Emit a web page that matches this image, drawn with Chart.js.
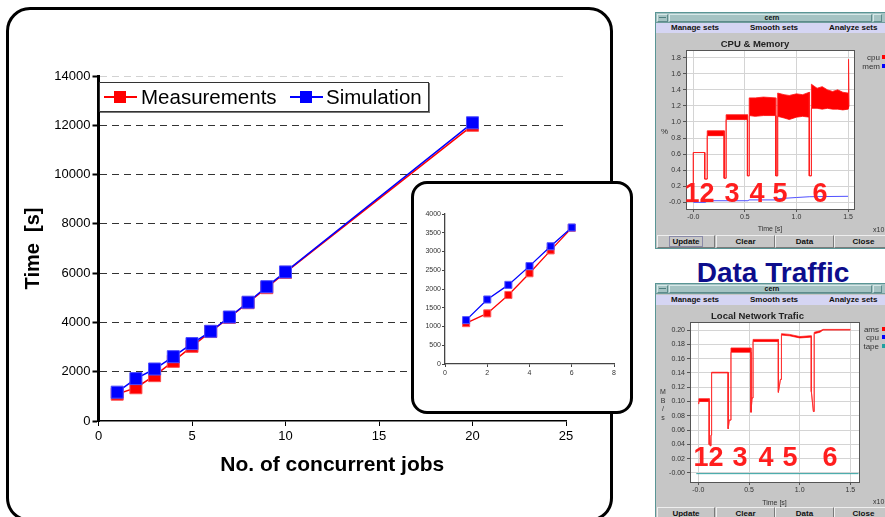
<!DOCTYPE html>
<html><head><meta charset="utf-8">
<script src="https://cdn.jsdelivr.net/npm/chart.js@4.4.0/dist/chart.umd.min.js"></script>
<style>
html,body{margin:0;padding:0;background:#fff;width:885px;height:517px;overflow:hidden;font-family:'Liberation Sans',Arial,sans-serif;}
.a{position:absolute;}
#panel{left:6px;top:7px;width:607px;height:515px;border:3px solid #000;border-radius:24px;background:#fff;box-sizing:border-box;}
#inset{left:411px;top:181px;width:222px;height:233px;border:3px solid #000;border-radius:16px;background:#fff;box-sizing:border-box;}
#legend{left:99px;top:82px;width:330px;height:30px;border:1px solid #333;box-shadow:1px 1px 0 #777;background:#fff;box-sizing:border-box;}
.lt{font-size:20.5px;color:#000;line-height:24px;top:85px;white-space:nowrap;}
.win{background:#c6c6c6;border:1px solid #5a9595;box-sizing:border-box;}
.tbar{background:#a5c3c3;border-bottom:1px solid #6f9c9c;box-sizing:border-box;}
.tbtn{background:#a5c3c3;border:1px solid;border-color:#d6e8e8 #5d8b8b #5d8b8b #d6e8e8;box-sizing:border-box;}
.mbar{background:#d5d5f3;}
.mt{font-size:8px;font-weight:bold;color:#111;white-space:nowrap;line-height:10px;}
.btn{background:#c6c6c6;border:1px solid;border-color:#eeeeee #7a7a7a #7a7a7a #eeeeee;box-sizing:border-box;font-size:8px;font-weight:bold;color:#111;text-align:center;line-height:11px;}
.num{color:#ff1e1e;font-weight:bold;font-size:27px;line-height:27px;width:20px;text-align:center;}
.lg{font-size:8px;color:#333;line-height:9px;text-align:right;width:30px;}
.sq{width:5px;height:4px;}
.sm{font-size:7px;color:#333;line-height:8px;}
</style></head>
<body>
<div id="panel" class="a"></div>
<canvas id="mainChart" class="a" width="600" height="430" style="left:6px;top:56px;width:600px;height:430px;"></canvas>

<div id="legend" class="a"></div>
<div class="a" style="left:104px;top:96px;width:33px;height:2px;background:#ff0000;"></div>
<div class="a" style="left:114px;top:91px;width:12px;height:12px;background:#ff0000;"></div>
<div class="a lt" style="left:141px;">Measurements</div>
<div class="a" style="left:290px;top:96px;width:33px;height:2px;background:#0000ff;"></div>
<div class="a" style="left:300px;top:91px;width:12px;height:12px;background:#0000ff;"></div>
<div class="a lt" style="left:326px;">Simulation</div>

<div id="inset" class="a"></div>
<canvas id="insetChart" class="a" width="210" height="180" style="left:415px;top:200px;width:210px;height:180px;"></canvas>

<!-- top window -->
<div class="a win" style="left:655px;top:12px;width:240px;height:237px;"></div>
<div class="a tbar" style="left:656px;top:13px;width:240px;height:10px;"></div>
<div class="a tbtn" style="left:657px;top:14px;width:11px;height:8px;"></div>
<div class="a" style="left:659px;top:17px;width:7px;height:1px;background:#4f7f7f;"></div>
<div class="a tbtn" style="left:669px;top:14px;width:203px;height:8px;"></div>
<div class="a mt" style="left:756px;top:13px;width:32px;text-align:center;font-size:7px;line-height:9px;">cern</div>
<div class="a tbtn" style="left:873px;top:14px;width:9px;height:8px;"></div>
<div class="a mbar" style="left:656px;top:23px;width:240px;height:10px;"></div>
<div class="a mt" style="left:671px;top:23px;">Manage sets</div>
<div class="a mt" style="left:750px;top:23px;">Smooth sets</div>
<div class="a mt" style="left:829px;top:23px;">Analyze sets</div>
<canvas id="cpuChart" class="a" width="229" height="202" style="left:656px;top:32px;width:229px;height:202px;"></canvas>
<div class="a sm" style="left:661px;top:128px;font-size:8px;">%</div>
<div class="a lg" style="left:850px;top:53px;">cpu</div>
<div class="a sq" style="left:882px;top:55px;background:#ff0000;"></div>
<div class="a lg" style="left:850px;top:62px;">mem</div>
<div class="a sq" style="left:882px;top:64px;background:#0000ff;"></div>
<div class="a sm" style="left:873px;top:226px;">x10</div>
<div class="a btn" style="left:657px;top:235px;width:58px;height:13px;"><span style="border:1px solid #8a8aa8;padding:0 2px;">Update</span></div>
<div class="a btn" style="left:716px;top:235px;width:59px;height:13px;">Clear</div>
<div class="a btn" style="left:775px;top:235px;width:59px;height:13px;">Data</div>
<div class="a btn" style="left:834px;top:235px;width:59px;height:13px;">Close</div>
<div class="a num" style="left:682px;top:180px;">1</div>
<div class="a num" style="left:697px;top:180px;">2</div>
<div class="a num" style="left:722px;top:180px;">3</div>
<div class="a num" style="left:747px;top:180px;">4</div>
<div class="a num" style="left:770px;top:180px;">5</div>
<div class="a num" style="left:810px;top:180px;">6</div>

<!-- bottom window -->
<div class="a" style="left:673px;top:259px;width:200px;text-align:center;font-size:28px;line-height:28px;font-weight:bold;color:#0d0d8c;">Data Traffic</div>
<div class="a win" style="left:655px;top:283px;width:240px;height:240px;"></div>
<div class="a tbar" style="left:656px;top:284px;width:240px;height:10px;"></div>
<div class="a tbtn" style="left:657px;top:285px;width:11px;height:8px;"></div>
<div class="a" style="left:659px;top:288px;width:7px;height:1px;background:#4f7f7f;"></div>
<div class="a tbtn" style="left:669px;top:285px;width:203px;height:8px;"></div>
<div class="a mt" style="left:756px;top:284px;width:32px;text-align:center;font-size:7px;line-height:9px;">cern</div>
<div class="a tbtn" style="left:873px;top:285px;width:9px;height:8px;"></div>
<div class="a mbar" style="left:656px;top:295px;width:240px;height:10px;"></div>
<div class="a mt" style="left:671px;top:295px;">Manage sets</div>
<div class="a mt" style="left:750px;top:295px;">Smooth sets</div>
<div class="a mt" style="left:829px;top:295px;">Analyze sets</div>
<canvas id="netChart" class="a" width="229" height="204" style="left:656px;top:304px;width:229px;height:204px;"></canvas>
<div class="a sm" style="left:660px;top:388px;width:6px;text-align:center;line-height:8.5px;">M<br>B<br>/<br>s</div>
<div class="a lg" style="left:849px;top:325px;">ams</div>
<div class="a sq" style="left:882px;top:327px;background:#ff0000;"></div>
<div class="a lg" style="left:849px;top:333px;">cpu</div>
<div class="a sq" style="left:882px;top:335px;background:#0000ff;"></div>
<div class="a lg" style="left:849px;top:342px;">tape</div>
<div class="a sq" style="left:882px;top:344px;background:#20a0a0;"></div>
<div class="a sm" style="left:873px;top:498px;">x10</div>
<div class="a btn" style="left:657px;top:507px;width:58px;height:13px;">Update</div>
<div class="a btn" style="left:716px;top:507px;width:59px;height:13px;">Clear</div>
<div class="a btn" style="left:775px;top:507px;width:59px;height:13px;">Data</div>
<div class="a btn" style="left:834px;top:507px;width:59px;height:13px;">Close</div>
<div class="a num" style="left:691px;top:444px;">1</div>
<div class="a num" style="left:706px;top:444px;">2</div>
<div class="a num" style="left:730px;top:444px;">3</div>
<div class="a num" style="left:756px;top:444px;">4</div>
<div class="a num" style="left:780px;top:444px;">5</div>
<div class="a num" style="left:820px;top:444px;">6</div>

<script>
// ---- main chart data ----
const jobs = [1, 2, 3, 4, 5, 6, 7, 8, 9, 10, 20];
const measurements = [1090, 1350, 1840, 2420, 3030, 3630, 4200, 4800, 5410, 6030, 12000];
const simulation   = [1170, 1720, 2110, 2610, 3140, 3640, 4220, 4820, 5450, 6050, 12100];
const mainXTicks = [0, 5, 10, 15, 20, 25];
const mainYTicks = [0, 2000, 4000, 6000, 8000, 10000, 12000, 14000];
// ---- inset (first six job counts) ----
const insetJobs = [1, 2, 3, 4, 5, 6];
const insetMeasurements = [1090, 1350, 1840, 2420, 3030, 3630];
const insetSimulation   = [1170, 1720, 2110, 2610, 3140, 3640];
const insetXTicks = [0, 2, 4, 6, 8];
const insetYTicks = [0, 500, 1000, 1500, 2000, 2500, 3000, 3500, 4000];
// ---- CPU & Memory monitor ----
const cpuX  = [0.000,0.000,0.110,0.110,0.135,0.135,0.300,0.300,0.318,0.318,0.525,0.525,0.542,0.542,0.600,0.680,0.800,0.800,0.818,0.818,0.880,0.930,1.000,1.060,1.125,1.125,1.145,1.145,1.200,1.250,1.300,1.350,1.400,1.450,1.500,1.505,1.510];
const cpuHi = [0.22,0.62,0.62,0.29,0.29,0.89,0.89,0.30,0.30,1.09,1.09,0.33,0.33,1.30,1.30,1.31,1.30,0.33,0.33,1.36,1.34,1.33,1.35,1.34,1.37,0.33,0.33,1.47,1.42,1.44,1.40,1.38,1.40,1.37,1.36,1.78,1.20];
const cpuLo = [0.22,0.62,0.62,0.29,0.29,0.83,0.83,0.30,0.30,1.03,1.03,0.33,0.33,1.08,1.07,1.08,1.08,0.33,0.33,1.07,1.05,1.03,1.06,1.07,1.06,0.33,0.33,1.17,1.17,1.16,1.17,1.16,1.16,1.15,1.16,1.16,1.20];
const memX  = [0.00,0.115,0.12,0.53,0.54,0.81,0.82,1.00,1.13,1.50];
const memY  = [0.00,0.00,0.02,0.02,0.03,0.03,0.045,0.06,0.07,0.075];
const cpuYTicks  = [0,0.2,0.4,0.6,0.8,1.0,1.2,1.4,1.6,1.8];
const cpuYLabels = ['-0.0','0.2','0.4','0.6','0.8','1.0','1.2','1.4','1.6','1.8'];
const winXTicks  = [0,0.5,1.0,1.5];
const winXLabels = ['-0.0','0.5','1.0','1.5'];
// ---- Local network traffic monitor ----
const netX  = [0.000,0.005,0.108,0.108,0.118,0.125,0.131,0.131,0.295,0.295,0.305,0.322,0.322,0.520,0.520,0.530,0.540,0.540,0.790,0.790,0.810,0.820,0.820,0.900,1.000,1.100,1.115,1.115,1.135,1.143,1.143,1.200,1.230,1.500];
const netHi = [0.097,0.104,0.104,0.040,0.038,0.053,0.053,0.141,0.141,0.062,0.074,0.074,0.175,0.175,0.085,0.105,0.105,0.187,0.187,0.113,0.131,0.131,0.195,0.194,0.191,0.192,0.192,0.114,0.086,0.086,0.197,0.199,0.201,0.201];
const netLo = [0.097,0.100,0.100,0.040,0.038,0.053,0.053,0.140,0.140,0.062,0.074,0.074,0.169,0.169,0.085,0.105,0.105,0.184,0.184,0.113,0.131,0.131,0.193,0.192,0.189,0.190,0.190,0.114,0.086,0.086,0.195,0.197,0.200,0.200];
const tapeX = [-0.02, 1.58];
const tapeY = [-0.001, -0.001];
const netYTicks  = [0,0.02,0.04,0.06,0.08,0.10,0.12,0.14,0.16,0.18,0.20];
const netYLabels = ['-0.00','0.02','0.04','0.06','0.08','0.10','0.12','0.14','0.16','0.18','0.20'];

Chart.defaults.font.family = "'Liberation Sans', Arial, sans-serif";
Chart.defaults.animation = false;

const pts = (xs, ys) => xs.map((x, i) => ({x, y: ys[i]}));
const fixTicks = vals => s => { s.ticks = vals.map(v => ({value: v})); };
const plain = v => String(v);

const plotBox = {
  id: 'plotBox',
  beforeDraw(chart, args, o) {
    if (!o || !o.bg) return;
    const {ctx, chartArea: a} = chart;
    ctx.save(); ctx.fillStyle = o.bg;
    ctx.fillRect(a.left, a.top, a.right - a.left, a.bottom - a.top); ctx.restore();
  },
  afterDraw(chart, args, o) {
    if (!o || !o.frame) return;
    const {ctx, chartArea: a} = chart;
    ctx.save(); ctx.strokeStyle = o.frame; ctx.lineWidth = 1;
    ctx.strokeRect(Math.round(a.left) + 0.5, Math.round(a.top) + 0.5, Math.round(a.right - a.left), Math.round(a.bottom - a.top));
    ctx.restore();
  }
};

// ---------- main chart ----------
new Chart(document.getElementById('mainChart'), {
  type: 'line',
  data: { datasets: [
    { label: 'Measurements', data: pts(jobs, measurements), borderColor: '#ff0000', backgroundColor: '#ff0000',
      pointStyle: 'rect', pointRadius: 8.5, pointBorderColor: '#ff4a4a', pointBorderWidth: 1, borderWidth: 1.5, order: 2 },
    { label: 'Simulation', data: pts(jobs, simulation), borderColor: '#0000ff', backgroundColor: '#0000ff',
      pointStyle: 'rect', pointRadius: 8.5, pointBorderColor: '#4a4aff', pointBorderWidth: 1, borderWidth: 1.5, order: 1 }
  ]},
  options: {
    responsive: false, animation: false,
    layout: { padding: { top: 20, right: 40, left: 0, bottom: 0 } },
    plugins: { legend: { display: false }, tooltip: { enabled: false } },
    scales: {
      x: { type: 'linear', min: 0, max: 25, afterBuildTicks: fixTicks(mainXTicks),
        ticks: { font: { size: 13 }, color: '#000', padding: 3, callback: plain },
        grid: { drawOnChartArea: false, drawTicks: true, tickLength: 5, tickColor: '#000', tickWidth: 1 },
        border: { color: '#000', width: 1.5 },
        title: { display: true, text: 'No. of concurrent jobs', color: '#000', font: { size: 21, weight: 'bold' }, padding: { top: 0, bottom: 8 } },
        afterFit: s => { s.height = 65; } },
      y: { type: 'linear', min: 0, max: 14000, afterBuildTicks: fixTicks(mainYTicks),
        ticks: { font: { size: 13 }, color: '#000', padding: 2, callback: plain },
        grid: { color: c => c.tick.value === 14000 ? '#d2d2d2' : (c.tick.value === 0 ? 'rgba(0,0,0,0)' : '#333'),
          lineWidth: 1, tickColor: '#000', tickLength: 6, tickWidth: 2, tickBorderDash: [] },
        border: { color: '#000', width: 3, dash: [7, 5] },
        title: { display: true, text: 'Time  [s]', color: '#000', font: { size: 20, weight: 'bold' }, padding: { top: 15, bottom: 0 } },
        afterFit: s => { s.width = 92.5; } }
    }
  }
});

// ---------- inset chart ----------
new Chart(document.getElementById('insetChart'), {
  type: 'line',
  data: { datasets: [
    { label: 'Measurements', data: pts(insetJobs, insetMeasurements), borderColor: '#ff0000', backgroundColor: '#ff0000',
      pointStyle: 'rect', pointRadius: 5, pointBorderColor: '#ff5a5a', pointBorderWidth: 1, borderWidth: 1.3, order: 2 },
    { label: 'Simulation', data: pts(insetJobs, insetSimulation), borderColor: '#0000ff', backgroundColor: '#0000ff',
      pointStyle: 'rect', pointRadius: 5, pointBorderColor: '#5a5aff', pointBorderWidth: 1, borderWidth: 1.3, order: 1 }
  ]},
  options: {
    responsive: false, animation: false,
    layout: { padding: { top: 14, right: 11, left: 0, bottom: 0 } },
    plugins: { legend: { display: false }, tooltip: { enabled: false } },
    scales: {
      x: { type: 'linear', min: 0, max: 8, afterBuildTicks: fixTicks(insetXTicks),
        ticks: { font: { size: 7 }, color: '#333', padding: 2, callback: plain },
        grid: { drawOnChartArea: false, tickLength: 3, tickColor: '#444' },
        border: { color: '#444', width: 1.3 },
        afterFit: s => { s.height = 16; } },
      y: { type: 'linear', min: 0, max: 4000, afterBuildTicks: fixTicks(insetYTicks),
        ticks: { font: { size: 7 }, color: '#333', padding: 1, callback: plain },
        grid: { drawOnChartArea: false, tickLength: 3, tickColor: '#444' },
        border: { color: '#444', width: 1.3 },
        afterFit: s => { s.width = 30; } }
    }
  }
});

// ---------- window plots ----------
function winScales(xMin, xMax, yMin, yMax, yTicks, yLabels, yWidth, xHeight) {
  return {
    x: { type: 'linear', min: xMin, max: xMax, afterBuildTicks: fixTicks(winXTicks),
      ticks: { font: { size: 7 }, color: '#333', padding: 1, callback: (v, i) => winXLabels[i] },
      grid: { color: '#d4d4d4', tickLength: 3, tickColor: '#555' },
      border: { display: false },
      title: { display: true, text: 'Time [s]', color: '#333', font: { size: 7 }, padding: { top: 0, bottom: 1 } },
      afterFit: s => { s.height = xHeight; } },
    y: { type: 'linear', min: yMin, max: yMax, afterBuildTicks: fixTicks(yTicks),
      ticks: { font: { size: 7 }, color: '#333', padding: 2, callback: (v, i) => yLabels[i] },
      grid: { color: '#d4d4d4', tickLength: 3, tickColor: '#555' },
      border: { display: false },
      afterFit: s => { s.width = yWidth; } }
  };
}

new Chart(document.getElementById('cpuChart'), {
  type: 'line',
  plugins: [plotBox],
  data: { datasets: [
    { label: 'cpu', data: pts(cpuX, cpuHi), borderColor: 'rgba(255,30,30,0.85)', backgroundColor: '#ff0000',
      borderWidth: 1, pointRadius: 0, fill: '+1' },
    { label: 'cpu-low', data: pts(cpuX, cpuLo), borderColor: 'rgba(255,30,30,0.85)', borderWidth: 1, pointRadius: 0, fill: false },
    { label: 'mem', data: pts(memX, memY), borderColor: '#5050ff', borderWidth: 1, pointRadius: 0, fill: false }
  ]},
  options: {
    responsive: false, animation: false,
    layout: { padding: { top: 0, right: 31, left: 0, bottom: 0 } },
    plugins: { legend: { display: false }, tooltip: { enabled: false },
      title: { display: true, text: 'CPU & Memory', color: '#222', font: { size: 9.5, weight: 'bold' }, padding: { top: 7, bottom: 0 } },
      plotBox: { bg: '#ffffff', frame: '#555' } },
    scales: winScales(-0.071, 1.558, -0.083, 1.891, cpuYTicks, cpuYLabels, 30, 25)
  }
});

new Chart(document.getElementById('netChart'), {
  type: 'line',
  plugins: [plotBox],
  data: { datasets: [
    { label: 'ams', data: pts(netX, netHi), borderColor: 'rgba(255,40,40,0.8)', backgroundColor: '#ff0000',
      borderWidth: 1, pointRadius: 0, fill: '+1' },
    { label: 'ams-low', data: pts(netX, netLo), borderColor: 'rgba(255,40,40,0.8)', borderWidth: 1, pointRadius: 0, fill: false },
    { label: 'tape', data: pts(tapeX, tapeY), borderColor: '#30a0a0', borderWidth: 1, pointRadius: 0, fill: false }
  ]},
  options: {
    responsive: false, animation: false,
    layout: { padding: { top: 0, right: 26, left: 0, bottom: 0 } },
    plugins: { legend: { display: false }, tooltip: { enabled: false },
      title: { display: true, text: 'Local Network Trafic', color: '#222', font: { size: 9.5, weight: 'bold' }, padding: { top: 7, bottom: 0 } },
      plotBox: { bg: '#ffffff', frame: '#555' } },
    scales: winScales(-0.082, 1.585, -0.0127, 0.2108, netYTicks, netYLabels, 34, 26)
  }
});
</script>
</body></html>
